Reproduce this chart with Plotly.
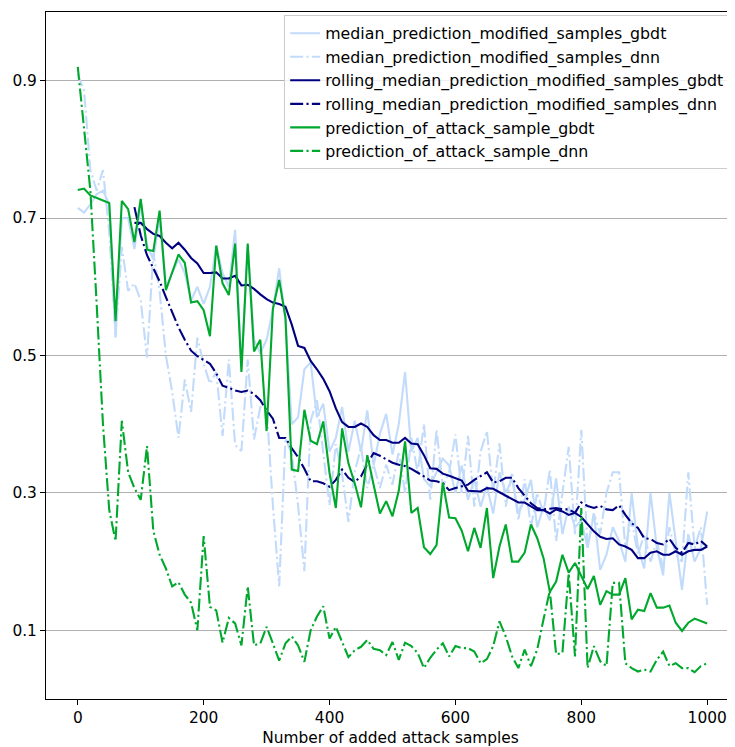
import plotly.graph_objects as go

x = list(range(0, 1001, 10))

median_gbdt = [0.715, 0.708, 0.72, 0.735, 0.74, 0.72, 0.53, 0.70, 0.70, 0.655,
               0.72, 0.66, 0.64, 0.70, 0.60, 0.62, 0.64, 0.62, 0.58, 0.60,
               0.575, 0.60, 0.66, 0.62, 0.60, 0.683, 0.484, 0.66, 0.523, 0.503,
               0.523, 0.567, 0.627, 0.55, 0.40, 0.41, 0.48, 0.49, 0.41, 0.43,
               0.36, 0.38, 0.425, 0.36, 0.405, 0.36, 0.42, 0.34, 0.386, 0.415,
               0.356, 0.40, 0.476, 0.36, 0.38, 0.32, 0.31, 0.33, 0.35, 0.34,
               0.30, 0.34, 0.29, 0.32, 0.28, 0.31, 0.27, 0.33, 0.30, 0.32,
               0.27, 0.29, 0.319, 0.25, 0.28, 0.26, 0.321, 0.24, 0.28, 0.25,
               0.26, 0.22, 0.27, 0.188, 0.21, 0.25, 0.23, 0.20, 0.30, 0.22,
               0.19, 0.30, 0.22, 0.18, 0.30, 0.23, 0.159, 0.24, 0.20, 0.22,
               0.273]

median_dnn = [0.91, 0.885, 0.77, 0.74, 0.77, 0.68, 0.526, 0.658, 0.594, 0.605,
              0.58, 0.497, 0.649, 0.594, 0.50, 0.447, 0.38, 0.465, 0.418, 0.526,
              0.488, 0.459, 0.476, 0.383, 0.494, 0.37, 0.361, 0.494, 0.378, 0.425,
              0.425, 0.282, 0.164, 0.38, 0.356, 0.282, 0.186, 0.405, 0.435, 0.356,
              0.282, 0.371, 0.327, 0.258, 0.331, 0.366, 0.307, 0.341, 0.307, 0.341,
              0.312, 0.36, 0.30, 0.38, 0.33, 0.40, 0.29, 0.392, 0.31, 0.33,
              0.385, 0.30, 0.383, 0.28, 0.36, 0.39, 0.30, 0.372, 0.28, 0.33,
              0.26, 0.32, 0.25, 0.30, 0.27, 0.334, 0.23, 0.30, 0.367, 0.24,
              0.392, 0.22, 0.27, 0.24, 0.30, 0.33, 0.33, 0.22, 0.26, 0.21,
              0.24, 0.20, 0.23, 0.19, 0.25, 0.21, 0.20, 0.33, 0.22, 0.25,
              0.137]

rolling_gbdt = [None] * 9 + [
    0.693, 0.693, 0.684, 0.677, 0.674, 0.664, 0.656, 0.664, 0.654, 0.642,
    0.634, 0.62, 0.62, 0.621, 0.612, 0.612, 0.616, 0.602, 0.603, 0.597,
    0.589, 0.582, 0.577, 0.575, 0.571, 0.545, 0.514, 0.511, 0.492, 0.48,
    0.466, 0.448, 0.423, 0.403, 0.396, 0.396, 0.401, 0.396, 0.384, 0.377,
    0.377, 0.373, 0.373, 0.38, 0.372, 0.371, 0.355, 0.336, 0.335, 0.328,
    0.325, 0.322, 0.318, 0.303, 0.303, 0.302, 0.307, 0.306, 0.301, 0.296,
    0.29, 0.286, 0.286, 0.281, 0.275, 0.275, 0.27, 0.276, 0.273, 0.268,
    0.271, 0.265, 0.254, 0.244, 0.236, 0.233, 0.234, 0.225, 0.222, 0.217,
    0.205, 0.205, 0.213, 0.215, 0.21, 0.21, 0.215, 0.21, 0.215, 0.217,
    0.217, 0.222]

rolling_dnn = [None] * 9 + [
    0.716, 0.675, 0.646, 0.626, 0.608, 0.585, 0.564, 0.541, 0.523, 0.507,
    0.499, 0.494, 0.488, 0.474, 0.456, 0.453, 0.449, 0.447, 0.449, 0.444,
    0.435, 0.42, 0.408, 0.38, 0.38, 0.365, 0.352, 0.335, 0.317, 0.317,
    0.314, 0.309, 0.319, 0.334, 0.322, 0.316, 0.324, 0.342, 0.358, 0.354,
    0.349, 0.344, 0.341, 0.339, 0.335, 0.33, 0.324, 0.318, 0.317, 0.314,
    0.304, 0.307, 0.31, 0.312, 0.319, 0.324, 0.33, 0.315, 0.317, 0.322,
    0.322, 0.307, 0.296, 0.285, 0.278, 0.276, 0.277, 0.278, 0.276, 0.276,
    0.271, 0.286, 0.281, 0.278, 0.281, 0.276, 0.275, 0.282, 0.268, 0.256,
    0.249, 0.234, 0.233, 0.227, 0.225, 0.233, 0.22, 0.213, 0.227, 0.225,
    0.23, 0.222]

attack_gbdt = [0.741, 0.743, 0.733, 0.729, 0.726, 0.722, 0.55, 0.725, 0.713, 0.665,
               0.728, 0.654, 0.652, 0.711, 0.595, 0.62, 0.647, 0.635, 0.577, 0.579,
               0.566, 0.528, 0.66, 0.605, 0.588, 0.663, 0.476, 0.663, 0.506, 0.523,
               0.39, 0.568, 0.61, 0.555, 0.334, 0.332, 0.421, 0.376, 0.371, 0.404,
               0.329, 0.278, 0.394, 0.343, 0.314, 0.279, 0.355, 0.312, 0.27, 0.288,
               0.266, 0.303, 0.375, 0.271, 0.278, 0.221, 0.211, 0.224, 0.315, 0.264,
               0.263, 0.245, 0.215, 0.249, 0.22, 0.278, 0.176, 0.222, 0.254, 0.2,
               0.2, 0.213, 0.254, 0.234, 0.205, 0.156, 0.171, 0.21, 0.184, 0.198,
               0.179, 0.16, 0.179, 0.137, 0.157, 0.152, 0.152, 0.176, 0.116, 0.13,
               0.128, 0.154, 0.133, 0.133, 0.136, 0.111, 0.099, 0.111, 0.117, 0.114,
               0.11]

attack_dnn = [0.92, 0.83, 0.74, 0.575, 0.40, 0.275, 0.23, 0.405, 0.33, 0.307,
              0.29, 0.368, 0.245, 0.21, 0.19, 0.164, 0.17, 0.152, 0.14, 0.1,
              0.237, 0.134, 0.129, 0.082, 0.118, 0.11, 0.078, 0.164, 0.078, 0.081,
              0.105, 0.081, 0.056, 0.081, 0.091, 0.078, 0.054, 0.1, 0.12, 0.135,
              0.088, 0.105, 0.083, 0.061, 0.071, 0.076, 0.086, 0.073, 0.071, 0.064,
              0.083, 0.057, 0.082, 0.077, 0.067, 0.045, 0.06, 0.072, 0.081, 0.062,
              0.077, 0.074, 0.074, 0.069, 0.052, 0.058, 0.077, 0.113, 0.091, 0.062,
              0.045, 0.072, 0.048, 0.072, 0.116, 0.158, 0.065, 0.067, 0.183, 0.062,
              0.278, 0.045, 0.077, 0.055, 0.048, 0.169, 0.169, 0.052, 0.045, 0.04,
              0.043, 0.04, 0.057, 0.069, 0.048, 0.052, 0.045, 0.045, 0.039, 0.048,
              0.052]

y_ticks = [0.1, 0.3, 0.5, 0.7, 0.9]
x_ticks = [0, 200, 400, 600, 800, 1000]

LIGHT = "#c2dbfb"
NAVY = "#000080"
GREEN = "#00a82d"
DASHDOT = "13px,3.3px,2.1px,3.3px"

series = [
    ("median_prediction_modified_samples_gbdt", median_gbdt, LIGHT, "solid"),
    ("median_prediction_modified_samples_dnn", median_dnn, LIGHT, DASHDOT),
    ("rolling_median_prediction_modified_samples_gbdt", rolling_gbdt, NAVY, "solid"),
    ("rolling_median_prediction_modified_samples_dnn", rolling_dnn, NAVY, DASHDOT),
    ("prediction_of_attack_sample_gbdt", attack_gbdt, GREEN, "solid"),
    ("prediction_of_attack_sample_dnn", attack_dnn, GREEN, DASHDOT),
]

fig = go.Figure()
for name, vals, color, dash in series:
    fig.add_trace(go.Scatter(
        x=x, y=vals, mode="lines", name=name,
        line=dict(color=color, width=2.1, dash=dash),
    ))

font = dict(family="DejaVu Sans", size=15.4, color="black")
legend_font = dict(family="DejaVu Sans", size=15.8, color="black")
fig.update_layout(
    width=727, height=739,
    margin=dict(l=38, r=0, t=4, b=48),
    paper_bgcolor="white", plot_bgcolor="white",
    font=font,
    showlegend=True,
    legend=dict(
        x=0.993, y=0.995, xanchor="right", yanchor="top",
        bgcolor="rgba(255,255,255,0.8)", bordercolor="#cccccc", borderwidth=1,
        font=legend_font, itemwidth=30,
    ),
    xaxis=dict(
        range=[-50.5, 1044.2], tickvals=x_ticks, ticks="outside", ticklen=5,
        tickwidth=1, tickcolor="black", showline=True, linecolor="black",
        linewidth=1, mirror=True, showgrid=False, zeroline=False,
        title=dict(text="Number of added attack samples", font=font, standoff=6),
        automargin=False,
    ),
    yaxis=dict(
        range=[0, 1], tickvals=y_ticks, tickformat=".1f", ticks="outside", ticklen=5,
        tickwidth=1, tickcolor="black", showline=True, linecolor="black",
        linewidth=1, mirror=True, showgrid=True, gridcolor="#b0b0b0", gridwidth=1,
        zeroline=False, automargin=False,
    ),
)

fig.write_html("out.html")
